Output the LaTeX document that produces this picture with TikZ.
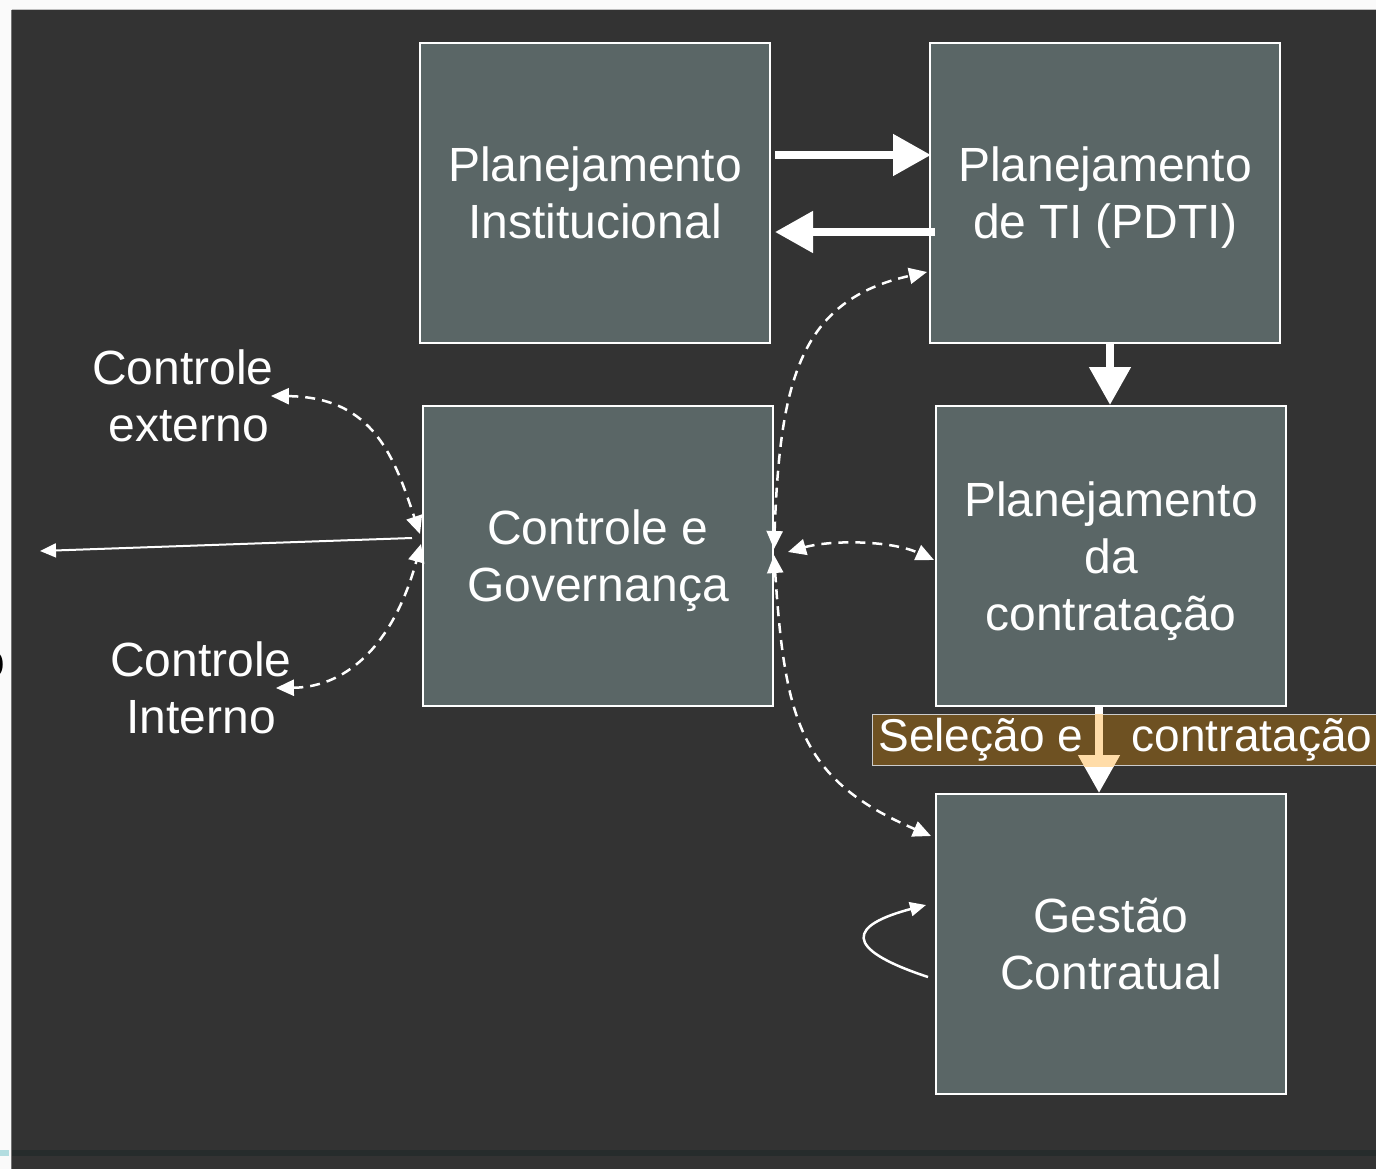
\documentclass[tikz,border=0pt]{standalone}
\usepackage{fontspec}
\setmainfont{Liberation Sans}
\usetikzlibrary{arrows.meta,calc}
\definecolor{fundo}{HTML}{333333}
\definecolor{caixacor}{HTML}{5A6666}
\definecolor{marrom}{HTML}{6E5122}
\definecolor{pessego}{HTML}{FFDCA8}
\definecolor{faixa}{HTML}{262C2C}
\definecolor{azulclaro}{HTML}{B3DDE0}
\tikzset{
	caixa/.style={draw=white, line width=2pt, fill=caixacor, minimum width=350pt, minimum height=300pt, text=white, align=center, text depth=0pt, font=\fontsize{48}{57}\selectfont},
	rotulo/.style={text=white, align=center, inner sep=0pt, font=\fontsize{48}{57}\selectfont},
	selo/.style={draw=black!20, line width=1pt, fill=marrom, text=white, inner xsep=6pt, inner ysep=0pt, minimum height=51pt, font=\fontsize{46}{52}\selectfont},
	setagrossa/.style={line width=8pt, -{Triangle[length=38pt,width=40pt]}},
	tracejada/.style={draw=white, line width=2.5pt, dash pattern=on 10pt off 7pt, {Triangle[length=18pt,width=16pt]}-{Triangle[length=18pt,width=16pt]}},
	setafina/.style={draw=white, line width=2pt, -{Triangle[length=16pt,width=14pt]}}
}

\begin{document}
\begin{tikzpicture}[x=1pt, y=-1pt]
			%%%%% START %%%%%
			
			\useasboundingbox (0, 0) rectangle (1376, 1169);
			\fill[black!2] (0, 0) rectangle (1376, 1169);
			\fill[fundo] (12, 10) rectangle (1376, 1169);
			\draw[line width=1.5pt, color=black!25] (12, 9.5) -- (1376, 9.5);
			\draw[line width=1.5pt, color=black!55] (11.5, 10) -- (11.5, 1169);
			\fill[faixa] (12, 1150) rectangle (1376, 1156);
			\fill[azulclaro] (0, 1150) rectangle (9, 1156);
			\node[rotulo, text=black, anchor=east] (frag) at (5, 665) {o};
			
			%%%%% caixas %%%%%
			\node[caixa] (PI) at (595, 193) {Planejamento\\Institucional};
			\node[caixa] (PTI) at (1105, 193) {Planejamento\\de TI (PDTI)};
			\node[caixa] (CG) at (598, 556) {Controle e\\Governança};
			\node[caixa] (PC) at (1111, 556) {Planejamento\\da\\contratação};
			\node[caixa] (GC) at (1111, 944) {Gestão\\Contratual};
			
			\node[rotulo] (ext) at (183, 396) {Controle\\\hspace*{12pt}externo};
			\node[rotulo] (int) at (201, 688) {Controle\\Interno};
			\coordinate (saida) at (40, 551);
			
			%%%%% setas grossas %%%%%
			\draw[setagrossa, white] ([xshift=4pt, yshift=38pt]PI.east) -- ([xshift=2pt, yshift=38pt]PTI.west);
			\draw[setagrossa, white] ([xshift=6pt, yshift=-39pt]PTI.west) -- ([xshift=4pt, yshift=-39pt]PI.east);
			\draw[setagrossa, white] ([xshift=5pt]PTI.south) -- ([xshift=-1pt]PC.north);
			\draw[setagrossa, white] ([xshift=-12pt]PC.south) -- ([xshift=-12pt]GC.north);
			
			\node[selo, anchor=west] (sel) at (872, 740) {Seleção e\hspace{36pt} contratação};
			\begin{scope}
				\clip (sel.north west) rectangle (sel.south east);
				\draw[setagrossa, pessego] ([xshift=-12pt]PC.south) -- ([xshift=-12pt]GC.north);
			\end{scope}
			
			%%%%% tracejadas %%%%%
			\draw[tracejada] ([xshift=-3pt]ext.east) .. controls (375, 397) and (395, 460) .. ([xshift=-2pt, yshift=22pt]CG.west);
			\draw[tracejada] ([xshift=-16pt]int.east) .. controls (350, 687) and (395, 640) .. ([xshift=-1pt, yshift=12pt]CG.west);
			\draw[setafina] ([xshift=-10pt, yshift=18pt]CG.west) -- (saida);
			
			\draw[tracejada] ([yshift=7pt]CG.east) .. controls (780, 380) and (800, 300) .. ([xshift=-2pt, yshift=-79pt]PTI.west);
			\draw[tracejada] ([xshift=14pt, yshift=4pt]CG.east) .. controls (830, 540) and (890, 540) .. ([xshift=-1pt, yshift=-4pt]PC.west);
			\draw[tracejada] ([yshift=1pt]CG.east) .. controls (785, 720) and (800, 780) .. ([xshift=-4pt, yshift=108pt]GC.west);
			
			\draw[setafina, line width=2.5pt] ([xshift=-7pt, yshift=-33pt]GC.west) .. controls (840, 948) and (850, 925) .. ([xshift=-9pt, yshift=39pt]GC.west);
			
			%%%%% END %%%%%
\end{tikzpicture}
\end{document}
